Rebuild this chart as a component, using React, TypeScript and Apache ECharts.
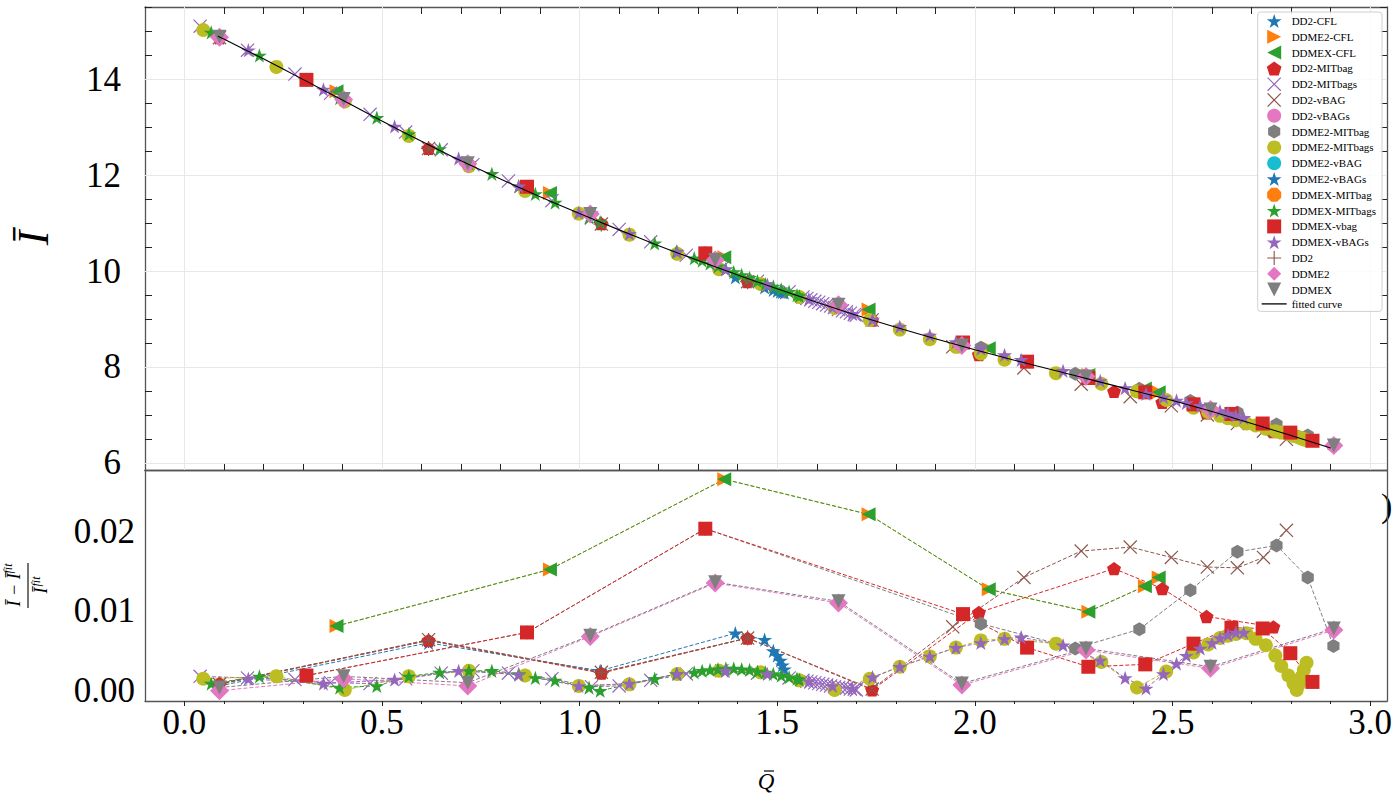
import React, { useEffect, useRef } from "react";
import * as echarts from "echarts";

const FONT = "'Liberation Serif', 'Times New Roman', serif";

// Each point: [Q̄, Ī, (Ī − Ī_fit)/Ī_fit]
const DD2_CFL = [
  [0.089, 14.87, 0.0006], [0.618, 12.56, 0.006], [1.052, 10.99, 0.0025], [1.394, 9.87, 0.0072],
  [1.468, 9.66, 0.0064], [1.49, 9.61, 0.005], [1.5, 9.59, 0.0044], [1.508, 9.57, 0.0038],
  [1.513, 9.56, 0.0032], [1.518, 9.55, 0.0027],
];
const DDME2_CFL = [
  [0.385, 13.75, 0.0081], [0.925, 11.63, 0.0152], [1.366, 10.29, 0.0265], [1.731, 9.2, 0.0221],
  [2.035, 8.39, 0.0127], [2.287, 7.83, 0.0099], [2.43, 7.55, 0.0131], [2.465, 7.47, 0.0142],
];
const DDMEX_CFL = [
  [0.385, 13.75, 0.0081], [0.925, 11.63, 0.0152], [1.366, 10.29, 0.0265], [1.731, 9.2, 0.0221],
  [2.035, 8.39, 0.0127], [2.287, 7.83, 0.0099], [2.43, 7.55, 0.0131], [2.465, 7.47, 0.0142],
];
const DD2_MITBAG = [
  [0.089, 14.87, 0.0009], [0.618, 12.56, 0.0063], [1.055, 10.99, 0.0022], [1.425, 9.78, 0.0066],
  [1.74, 8.98, 0.0001], [2.01, 8.26, 0.0098], [2.352, 7.49, 0.0153], [2.474, 7.26, 0.0128],
  [2.586, 7.04, 0.0093], [2.755, 6.65, 0.008],
];
const DD2_MITBAGS = [
  [0.04, 15.11, 0.0018], [0.16, 14.61, 0.0016], [0.28, 14.11, 0.0014], [0.37, 13.71, 0.001],
  [0.47, 13.27, 0.0009], [0.56, 12.9, 0.0015], [0.65, 12.53, 0.0022], [0.73, 12.22, 0.0025],
  [0.82, 11.88, 0.0022], [0.93, 11.47, 0.0015], [1.03, 11.11, 0.0005], [1.1, 10.87, 0.0006],
  [1.18, 10.61, 0.0013], [1.27, 10.33, 0.0021], [1.36, 10.06, 0.0025], [1.45, 9.79, 0.0022],
  [1.53, 9.57, 0.0016], [1.565, 9.46, 0.0013], [1.575, 9.43, 0.0012], [1.585, 9.4, 0.0011],
  [1.595, 9.37, 0.001], [1.605, 9.35, 0.0009], [1.615, 9.32, 0.0008], [1.625, 9.29, 0.0007],
  [1.635, 9.27, 0.0006], [1.645, 9.24, 0.0005], [1.655, 9.2, 0.0004], [1.665, 9.17, 0.0004],
  [1.675, 9.15, 0.0003], [1.685, 9.12, 0.0002], [1.695, 9.09, 0.0002], [1.7, 9.08, 0.0001],
];
const DD2_VBAG = [
  [0.089, 14.87, 0.0008], [0.618, 12.56, 0.0064], [1.055, 10.98, 0.0023], [1.425, 9.78, 0.0066],
  [1.74, 8.98, 0.0002], [1.944, 8.42, 0.008], [2.124, 7.98, 0.0142], [2.269, 7.64, 0.0175],
  [2.393, 7.38, 0.018], [2.497, 7.19, 0.0167], [2.588, 7.0, 0.0155], [2.664, 6.82, 0.0154],
  [2.73, 6.66, 0.0167], [2.788, 6.49, 0.0201],
];
const DD2_VBAGS: number[][] = [];
const DDME2_MITBAG = [
  [0.309, 13.99, 0.0019], [0.867, 11.76, 0.0073], [1.318, 10.37, 0.0203], [2.015, 8.4, 0.0084],
  [2.254, 7.86, 0.0053], [2.416, 7.54, 0.0077], [2.545, 7.29, 0.0126], [2.664, 7.05, 0.0174],
  [2.763, 6.8, 0.0182], [2.842, 6.57, 0.0142], [2.907, 6.35, 0.0056],
];
const DDME2_MITBAGS = [
  [0.048, 15.03, 0.0015], [0.233, 14.26, 0.0018], [0.406, 13.54, 0.0001], [0.568, 12.82, 0.0018],
  [0.72, 12.19, 0.0025], [0.862, 11.67, 0.0019], [0.998, 11.2, 0.0006], [1.126, 10.76, 0.0008],
  [1.247, 10.36, 0.0021], [1.353, 10.04, 0.0025], [1.458, 9.73, 0.0023], [1.556, 9.46, 0.0013],
  [1.645, 9.23, 0.0001], [1.734, 8.98, 0.0015], [1.81, 8.78, 0.003], [1.886, 8.58, 0.0043],
  [1.952, 8.42, 0.0054], [2.015, 8.28, 0.0063], [2.075, 8.15, 0.0065], [2.205, 7.87, 0.0059],
  [2.32, 7.65, 0.0036], [2.41, 7.49, 0.0004], [2.484, 7.31, 0.0024], [2.553, 7.15, 0.0048],
  [2.59, 7.06, 0.0058], [2.62, 6.98, 0.0066], [2.64, 6.93, 0.0069], [2.66, 6.89, 0.0071],
  [2.687, 6.82, 0.0072], [2.71, 6.78, 0.0065], [2.736, 6.71, 0.0057], [2.76, 6.66, 0.0044],
  [2.775, 6.63, 0.0031], [2.793, 6.6, 0.0019], [2.806, 6.56, 0.0009], [2.814, 6.55, 0.0001],
  [2.82, 6.53, 0.0008], [2.826, 6.51, 0.0017], [2.832, 6.49, 0.0026], [2.839, 6.47, 0.0035],
];
const DDME2_VBAG: number[][] = [];
const DDME2_VBAGS: number[][] = [];
const DDMEX_MITBAG: number[][] = [];
const DDMEX_MITBAGS = [
  [0.068, 14.98, 0.0009], [0.19, 14.5, 0.0018], [0.393, 13.61, 0.0004], [0.487, 13.2, 0.0006],
  [0.568, 12.86, 0.0018], [0.646, 12.55, 0.0023], [0.72, 12.25, 0.0025], [0.778, 12.03, 0.0025],
  [0.846, 11.77, 0.0021], [0.888, 11.61, 0.0016], [0.938, 11.43, 0.0013], [1.024, 11.12, 0.0004],
  [1.052, 11.02, 0.0], [1.19, 10.58, 0.0015], [1.245, 10.41, 0.0021], [1.29, 10.27, 0.0023],
  [1.31, 10.22, 0.0025], [1.33, 10.16, 0.0026], [1.35, 10.1, 0.0027], [1.37, 10.04, 0.0028],
  [1.39, 9.98, 0.0028], [1.41, 9.92, 0.0027], [1.43, 9.86, 0.0026], [1.45, 9.79, 0.0024],
  [1.47, 9.73, 0.0023], [1.49, 9.68, 0.0021], [1.51, 9.62, 0.0019], [1.53, 9.57, 0.0017],
  [1.55, 9.5, 0.0015], [1.556, 9.48, 0.0014],
];
const DDMEX_VBAG = [
  [0.309, 13.99, 0.0019], [0.867, 11.76, 0.0073], [1.318, 10.37, 0.0203], [1.97, 8.51, 0.0096],
  [2.132, 8.11, 0.0054], [2.287, 7.77, 0.003], [2.431, 7.47, 0.0033], [2.553, 7.22, 0.0059],
  [2.649, 7.02, 0.0079], [2.728, 6.82, 0.0078], [2.798, 6.63, 0.0047], [2.854, 6.46, 0.0011],
];
const DDMEX_VBAGS = [
  [0.162, 14.61, 0.0015], [0.352, 13.79, 0.0009], [0.532, 13.02, 0.0014], [0.694, 12.35, 0.0025],
  [0.846, 11.77, 0.002], [0.998, 11.22, 0.0006], [1.126, 10.78, 0.0009], [1.247, 10.4, 0.0021],
  [1.369, 10.04, 0.0025], [1.475, 9.72, 0.0021], [1.58, 9.42, 0.0012], [1.64, 9.25, 0.0006],
  [1.69, 9.11, 0.0003], [1.741, 8.99, 0.0017], [1.81, 8.84, 0.003], [1.886, 8.66, 0.0043],
  [1.952, 8.52, 0.0054], [2.015, 8.38, 0.006], [2.075, 8.25, 0.0065], [2.117, 8.15, 0.0067],
  [2.223, 7.92, 0.0057], [2.317, 7.71, 0.0038], [2.38, 7.56, 0.0016], [2.433, 7.44, 0.0003],
  [2.477, 7.37, 0.0021], [2.51, 7.3, 0.0034], [2.535, 7.25, 0.0044], [2.57, 7.19, 0.0053],
  [2.6, 7.12, 0.006], [2.62, 7.08, 0.0066], [2.64, 7.03, 0.007], [2.66, 6.99, 0.0073],
  [2.68, 6.94, 0.0073],
];
const DD2 = [
  [0.089, 14.87, 0.0008], [0.618, 12.56, 0.0063], [1.055, 10.98, 0.0023], [1.425, 9.78, 0.0066],
];
const DDME2 = [
  [0.089, 14.88, 0.0], [0.403, 13.58, 0.0015], [0.717, 12.24, 0.0006], [1.027, 11.19, 0.0068],
  [1.343, 10.23, 0.0135], [1.655, 9.3, 0.011], [1.967, 8.45, 0.0007], [2.281, 7.8, 0.0051],
  [2.596, 7.11, 0.0028], [2.908, 6.36, 0.0076],
];
const DDMEX = [
  [0.089, 14.89, 0.0004], [0.403, 13.59, 0.0018], [0.717, 12.25, 0.001], [1.027, 11.19, 0.0069],
  [1.343, 10.23, 0.0136], [1.655, 9.3, 0.0112], [1.967, 8.45, 0.0009], [2.281, 7.8, 0.0053],
  [2.596, 7.11, 0.003], [2.908, 6.36, 0.0078],
];

const FIT_Q = [0.085, 0.1, 0.2, 0.3, 0.4, 0.5, 0.6, 0.7, 0.8, 0.9, 1.0, 1.1, 1.2, 1.3, 1.4, 1.5,
  1.6, 1.7, 1.8, 1.9, 2.0, 2.1, 2.2, 2.3, 2.4, 2.5, 2.6, 2.7, 2.8, 2.9];
const FIT_I = [14.9, 14.84, 14.43, 14.0, 13.57, 13.13, 12.71, 12.3, 11.92, 11.55, 11.2, 10.86, 10.53,
  10.22, 9.92, 9.63, 9.35, 9.08, 8.83, 8.59, 8.36, 8.14, 7.93, 7.72, 7.51, 7.3, 7.07, 6.82, 6.57, 6.31];

const X_MAJOR = [0, 0.5, 1.0, 1.5, 2.0, 2.5, 3.0];
const X_MINOR = [0.1, 0.2, 0.3, 0.4, 0.6, 0.7, 0.8, 0.9, 1.1, 1.2, 1.3, 1.4, 1.6, 1.7, 1.8, 1.9,
  2.1, 2.2, 2.3, 2.4, 2.6, 2.7, 2.8, 2.9];
const Y_TOP_MAJOR = [6, 8, 10, 12, 14];
const Y_TOP_MINOR = [6.5, 7, 7.5, 8.5, 9, 9.5, 10.5, 11, 11.5, 12.5, 13, 13.5, 14.5, 15, 15.5];
const Y_BOT_MAJOR = [0, 0.01, 0.02];

const X_MIN = -0.0994, X_MAX = 3.0425;
const YT_MIN = 5.85, YT_MAX = 15.51;
const YB_MIN = -0.00129, YB_MAX = 0.02766;

const STAR = "path://M10 0L12.245 6.91L19.511 6.91L13.633 11.18L15.878 18.09L10 13.82L4.122 18.09L6.367 11.18L0.489 6.91L7.755 6.91Z";
const TRI_R = "path://M20 10L0 0L0 20Z";
const TRI_L = "path://M0 10L20 0L20 20Z";
const TRI_D = "path://M10 20L0 0L20 0Z";
const PENT = "path://M10 0L19.511 6.91L15.878 18.09L4.122 18.09L0.489 6.91Z";
const HEX = "path://M10 0L18.66 5L18.66 15L10 20L1.34 15L1.34 5Z";
const OCT = "path://M13.827 0.761L19.239 6.173L19.239 13.827L13.827 19.239L6.173 19.239L0.761 13.827L0.761 6.173L6.173 0.761Z";
const XTHIN = "path://M0 1.2L1.2 0L20 18.8L18.8 20Z M18.8 0L20 1.2L1.2 20L0 18.8Z";
const PLUS = "path://M9.2 0H10.8V9.2H20V10.8H10.8V20H9.2V10.8H0V9.2H9.2Z";
const DIAM = "path://M10 0L20 10L10 20L0 10Z";
const SQUARE = "path://M0 0H20V20H0Z";
const CIRCLE_ICON = "circle";
const LINE_ICON = "path://M0 0H25V1.3H0Z";

const SERIES_META = [
  { name: "DD2-CFL", data: DD2_CFL, color: "#1f77b4", symbol: STAR, size: 15 },
  { name: "DDME2-CFL", data: DDME2_CFL, color: "#ff7f0e", symbol: TRI_R, size: 14 },
  { name: "DDMEX-CFL", data: DDMEX_CFL, color: "#2ca02c", symbol: TRI_L, size: 14 },
  { name: "DD2-MITbag", data: DD2_MITBAG, color: "#d62728", symbol: PENT, size: 14 },
  { name: "DD2-MITbags", data: DD2_MITBAGS, color: "#9467bd", symbol: XTHIN, size: 14 },
  { name: "DD2-vBAG", data: DD2_VBAG, color: "#8c564b", symbol: XTHIN, size: 14 },
  { name: "DD2-vBAGs", data: DD2_VBAGS, color: "#e377c2", symbol: CIRCLE_ICON, size: 14 },
  { name: "DDME2-MITbag", data: DDME2_MITBAG, color: "#7f7f7f", symbol: HEX, size: 14 },
  { name: "DDME2-MITbags", data: DDME2_MITBAGS, color: "#bcbd22", symbol: CIRCLE_ICON, size: 14 },
  { name: "DDME2-vBAG", data: DDME2_VBAG, color: "#17becf", symbol: CIRCLE_ICON, size: 14 },
  { name: "DDME2-vBAGs", data: DDME2_VBAGS, color: "#1f77b4", symbol: STAR, size: 15 },
  { name: "DDMEX-MITbag", data: DDMEX_MITBAG, color: "#ff7f0e", symbol: OCT, size: 14 },
  { name: "DDMEX-MITbags", data: DDMEX_MITBAGS, color: "#2ca02c", symbol: STAR, size: 15 },
  { name: "DDMEX-vbag", data: DDMEX_VBAG, color: "#d62728", symbol: SQUARE, size: 14 },
  { name: "DDMEX-vBAGs", data: DDMEX_VBAGS, color: "#9467bd", symbol: STAR, size: 15 },
  { name: "DD2", data: DD2, color: "#8c564b", symbol: PLUS, size: 15 },
  { name: "DDME2", data: DDME2, color: "#e377c2", symbol: DIAM, size: 19 },
  { name: "DDMEX", data: DDMEX, color: "#7f7f7f", symbol: TRI_D, size: 14 },
];

const FRAME = "#555555";
const TICK = "#222222";
const TICK_FONT = 35;

function xAxisDef(grid: number, position: string, ticks: number[], len: number, inside: boolean, line: boolean, labels: boolean) {
  return {
    type: "value", gridIndex: grid, position, min: X_MIN, max: X_MAX,
    axisLine: { show: line, onZero: false, lineStyle: { color: FRAME, width: 1.3 } },
    axisTick: { show: ticks.length > 0, inside, length: len, customValues: ticks, lineStyle: { color: TICK, width: 1 } },
    axisLabel: labels
      ? { show: true, customValues: ticks, margin: 4, fontFamily: FONT, fontSize: TICK_FONT, color: "#000", formatter: (v: number) => v.toFixed(1) }
      : { show: false },
    splitLine: { show: false },
  };
}
function yAxisDef(grid: number, position: string, min: number, max: number, ticks: number[], len: number, inside: boolean, line: boolean, labels: any) {
  return {
    type: "value", gridIndex: grid, position, min, max,
    axisLine: { show: line, onZero: false, lineStyle: { color: FRAME, width: 1.3 } },
    axisTick: { show: ticks.length > 0 && len > 0, inside, length: len, customValues: ticks, lineStyle: { color: TICK, width: 1 } },
    axisLabel: labels ? { show: true, customValues: ticks, fontFamily: FONT, fontSize: TICK_FONT, color: "#000", ...labels } : { show: false },
    splitLine: { show: false },
  };
}

export default function App() {
  const ref = useRef<HTMLDivElement>(null);
  useEffect(() => {
    document.body.style.margin = "0";
    if (!ref.current) return;
    const chart = echarts.init(ref.current, undefined, { renderer: "svg" });

    const topSeries: any[] = SERIES_META.map((m) => ({
      type: "scatter", name: m.name, xAxisIndex: 0, yAxisIndex: 0,
      data: m.data.map((p) => [p[0], p[1]]),
      symbol: m.symbol, symbolSize: m.size, symbolKeepAspect: true,
      itemStyle: { color: m.color, opacity: 1 }, silent: true, emphasis: { disabled: true },
    }));
    const botSeries: any[] = SERIES_META.map((m) => ({
      type: "line", name: m.name, xAxisIndex: 4, yAxisIndex: 4,
      data: m.data.map((p) => [p[0], p[2]]),
      symbol: m.symbol, symbolSize: m.size, symbolKeepAspect: true, showSymbol: true, showAllSymbol: true,
      lineStyle: { color: m.color, width: 1, type: [4, 2] },
      itemStyle: { color: m.color, opacity: 1 }, silent: true, emphasis: { disabled: true },
    }));

    const gridLines: any = {
      type: "line", name: "__grid", xAxisIndex: 0, yAxisIndex: 0, data: [], silent: true,
      markLine: {
        z: 1, silent: true, symbol: ["none", "none"], label: { show: false },
        lineStyle: { color: "#e8e8e8", width: 1, type: "solid" },
        data: [
          ...X_MAJOR.map((v) => ({ xAxis: v })),
          ...Y_TOP_MAJOR.map((v) => ({ yAxis: v })),
        ],
      },
    };

    const fit: any = {
      type: "line", name: "fitted curve", xAxisIndex: 0, yAxisIndex: 0,
      data: FIT_Q.map((q, i) => [q, FIT_I[i]]), symbol: "none", smooth: 0.2,
      color: "#000", lineStyle: { color: "#000", width: 1.1 }, silent: true, z: 3,
    };

    const legendData: any[] = SERIES_META.map((m) => ({ name: m.name, icon: m.symbol }));
    legendData.push({ name: "fitted curve", icon: LINE_ICON });

    chart.setOption({
      animation: false,
      backgroundColor: "#ffffff",
      grid: [
        { left: 145, top: 7, width: 1242, height: 463 },
        { left: 145, top: 470, width: 1242, height: 231 },
      ],
      xAxis: [
        xAxisDef(0, "bottom", X_MAJOR, 13, true, true, false),
        xAxisDef(0, "bottom", X_MINOR, 7, true, false, false),
        xAxisDef(0, "top", X_MAJOR, 13, true, true, false),
        xAxisDef(0, "top", X_MINOR, 7, true, false, false),
        xAxisDef(1, "bottom", X_MAJOR, 5, false, true, true),
        xAxisDef(1, "bottom", X_MINOR, 3, false, false, false),
        xAxisDef(1, "top", [], 0, true, true, false),
      ],
      yAxis: [
        yAxisDef(0, "left", YT_MIN, YT_MAX, Y_TOP_MAJOR, 13, true, true, { margin: 24, formatter: (v: number) => String(v) }),
        yAxisDef(0, "left", YT_MIN, YT_MAX, Y_TOP_MINOR, 7, true, false, null),
        yAxisDef(0, "right", YT_MIN, YT_MAX, Y_TOP_MAJOR, 13, true, true, null),
        yAxisDef(0, "right", YT_MIN, YT_MAX, Y_TOP_MINOR, 7, true, false, null),
        yAxisDef(1, "left", YB_MIN, YB_MAX, Y_BOT_MAJOR, 0, true, true, { margin: 10, formatter: (v: number) => v.toFixed(2) }),
        yAxisDef(1, "right", YB_MIN, YB_MAX, [], 0, true, true, null),
      ],
      legend: {
        orient: "vertical", right: 18, top: 12, itemWidth: 25, itemHeight: 14, itemGap: 1.8,
        padding: [2, 6, 2, 4], backgroundColor: "rgba(255,255,255,0.85)", borderColor: "#d0d0d0",
        borderWidth: 1, borderRadius: 3, selectedMode: false, symbolKeepAspect: true,
        textStyle: { fontFamily: FONT, fontSize: 11, color: "#000" },
        data: legendData,
      },
      graphic: [
        {
          type: "group", x: 33, y: 238, rotation: Math.PI / 2, silent: true,
          children: [{ type: "text", style: { text: "Ī", fontStyle: "italic", fontSize: 44, fontFamily: FONT, fill: "#000", align: "center", verticalAlign: "middle" } }],
        },
        {
          type: "group", x: 28, y: 585.5, rotation: Math.PI / 2, silent: true,
          children: [
            { type: "text", x: -21, y: -14, style: { text: "Ī − Ī", fontStyle: "italic", fontSize: 18, fontFamily: FONT, fill: "#000", align: "left", verticalAlign: "middle" } },
            { type: "text", x: 12, y: -20, style: { text: "fit", fontStyle: "italic", fontSize: 12, fontFamily: FONT, fill: "#000", align: "left", verticalAlign: "middle" } },
            { type: "line", shape: { x1: -22.5, y1: 0, x2: 22.5, y2: 0 }, style: { stroke: "#000", lineWidth: 1.1 } },
            { type: "text", x: -8, y: 13, style: { text: "Ī", fontStyle: "italic", fontSize: 18, fontFamily: FONT, fill: "#000", align: "left", verticalAlign: "middle" } },
            { type: "text", x: -1, y: 8, style: { text: "fit", fontStyle: "italic", fontSize: 12, fontFamily: FONT, fill: "#000", align: "left", verticalAlign: "middle" } },
          ],
        },
        { type: "text", x: 766, y: 781, silent: true, style: { text: "Q", fontStyle: "italic", fontSize: 23, fontFamily: FONT, fill: "#000", align: "center", verticalAlign: "middle" } },
        { type: "line", silent: true, shape: { x1: 764, y1: 771, x2: 774, y2: 771 }, style: { stroke: "#000", lineWidth: 1.2 } },
        { type: "text", x: 1381, y: 505, silent: true, style: { text: ")", fontSize: 34, fontFamily: FONT, fill: "#000", align: "left", verticalAlign: "middle" } },
      ],
      series: [gridLines, ...topSeries, fit, ...botSeries],
    });
    return () => chart.dispose();
  }, []);
  return <div ref={ref} style={{ position: "absolute", left: 0, top: 0, width: 1400, height: 801 }} />;
}
